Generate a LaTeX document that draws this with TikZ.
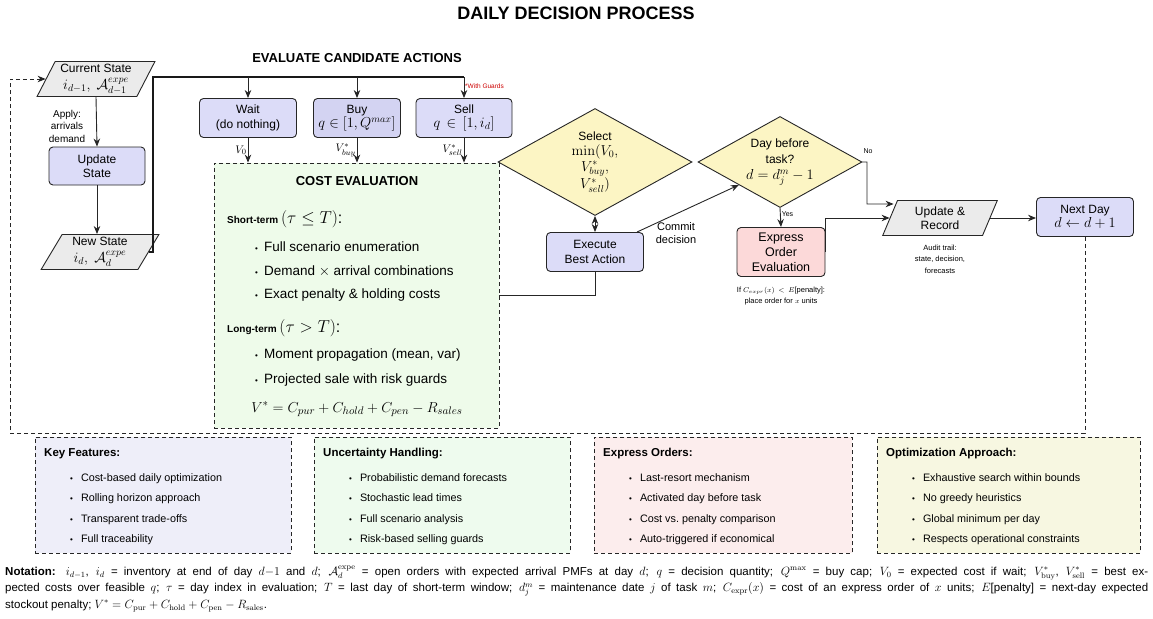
\documentclass[tikz,border=0pt]{standalone}
\usepackage{amsmath,amssymb}
\usepackage[no-math]{fontspec}
\setmainfont{Liberation Sans}
\usetikzlibrary{shapes.geometric,arrows.meta,calc}
\definecolor{lav}{HTML}{DCDCF8}
\definecolor{buyf}{HTML}{D3D3F2}
\definecolor{grayf}{HTML}{EBEBEB}
\definecolor{yel}{HTML}{FCF5C4}
\definecolor{pinkf}{HTML}{FCD9D9}
\definecolor{greenf}{HTML}{EEFBEA}
\definecolor{keyf}{HTML}{EEEEF9}
\definecolor{uncf}{HTML}{EEFBEE}
\definecolor{expf}{HTML}{FCEDED}
\definecolor{optf}{HTML}{F7F7E1}
\newcommand{\fs}[2]{\fontsize{#1}{#2}\selectfont}
\newcommand{\bul}{\raisebox{-0.8pt}{\fontsize{8}{8}\selectfont\textbullet}}
\newcommand{\mth}[1]{{\fs{14}{16}$#1$}}
\newcommand{\infobox}[9]{%
  \node[dbox, fill=#4, anchor=north west, minimum width={#3-#2}, minimum height=116] (#1) at (#2,437) {};
  \node[anchor=base west, font=\bfseries\fs{11.5}{13}] (#1-t) at (#2+8,456) {#5};
  \node[anchor=base west, font=\fs{10.8}{13}] (#1-1) at (#2+34,481) {\bul\hspace{8pt}#6};
  \node[anchor=base west, font=\fs{10.8}{13}] (#1-2) at (#2+34,501) {\bul\hspace{8pt}#7};
  \node[anchor=base west, font=\fs{10.8}{13}] (#1-3) at (#2+34,522) {\bul\hspace{8pt}#8};
  \node[anchor=base west, font=\fs{10.8}{13}] (#1-4) at (#2+34,542) {\bul\hspace{8pt}#9};
}
\begin{document}
\begin{tikzpicture}[x=1pt,y=-1pt,
  every node/.style={inner sep=1pt, text=black},
  box/.style={draw=black!85, line width=0.9pt, rounded corners=4pt, fill=lav, align=center, font=\fs{12}{14.5}, minimum width=97pt, minimum height=39pt, inner sep=2pt},
  para/.style={trapezium, trapezium left angle=63, trapezium right angle=117, trapezium stretches=true, draw=black!85, line width=0.9pt, fill=grayf, align=center, font=\fs{12}{17}, minimum width=118pt, minimum height=35pt, inner sep=0.5pt},
  dia/.style={diamond, aspect=1.8, draw=black!85, line width=0.9pt, fill=yel, align=center, font=\fs{12}{15.5}, inner sep=0pt},
  arr/.style={-{Stealth[length=8pt,width=6.5pt]}, line width=0.9pt, draw=black!85},
  dbox/.style={draw=black!85, line width=0.8pt, dash pattern=on 4pt off 3pt},
  lbl/.style={font=\fs{10}{12.5}, align=center},
  tinyl/.style={font=\fs{7.5}{11.5}, align=center}
]
\useasboundingbox (0,0) rectangle (1153,618);

% titles
\node[font=\bfseries\fs{18}{20}] (title) at (576,13) {DAILY DECISION PROCESS};
\node[font=\bfseries\fs{13}{15}] (evalt) at (357,58) {EVALUATE CANDIDATE ACTIONS};

% left column
\node[para] (cs) at (96,79) {Current State\\\mth{i_{d-1},\ \mathcal{A}^{expe}_{d-1}}};
\node[box, minimum width=96pt, minimum height=38pt] (us) at (97,166) {Update\\State};
\node[para] (ns) at (100,252) {New State\\\mth{i_{d},\ \mathcal{A}^{expe}_{d}}};
\node[lbl] (apply) at (67,126) {Apply:\\arrivals\\demand};
\draw[arr] (cs.south |- 0,97) -- (us.north);
\draw[arr] (us.south) -- (ns.north -| us.south);

% candidate actions
\node[box] (wait) at (248,118) {Wait\\(do nothing)};
\node[box, fill=buyf, minimum width=87pt] (buy) at (357,118) {Buy\\\mth{q \in [1, Q^{max}]}};
\node[box, minimum width=96pt] (sell) at (464,118) {Sell\\\mth{q\,\in\,[1, i_d]}};
\coordinate (bus) at (153,77);
\draw[line width=1.8pt, black!90, line join=miter] (ns.east) -| (bus) -- (sell.north |- bus);
\draw[arr] (wait.north |- bus) -- (wait.north);
\draw[arr] (buy.north |- bus) -- (buy.north);
\draw[arr] (sell.north |- bus) -- (sell.north);
\node[font=\fs{6.5}{7}, text=red!80!black, anchor=west] (guards) at (464,86) {*With Guards};

% cost evaluation
\node[dbox, fill=greenf, minimum width=285pt, minimum height=265pt] (cost) at (356.5,295.5) {};
\draw[arr] (wait.south) -- (wait.south |- cost.north) node[pos=0.5, left=0pt, font=\fs{11}{12}] (v0) {$V_0$};
\draw[arr] (buy.south) -- (buy.south |- cost.north) node[pos=0.5, left=0pt, font=\fs{11}{12}] (vb) {$V^*_{buy}$};
\draw[arr] (sell.south) -- (sell.south |- cost.north) node[pos=0.5, left=0pt, font=\fs{11}{12}] (vs) {$V^*_{sell}$};
\node[font=\bfseries\fs{13}{15}] (costt) at (357,181) {COST EVALUATION};
\node[anchor=base west] (st) at (226,223) {\fs{10}{12}\bfseries Short-term \normalfont\fs{16}{18}$(\tau \le T)$:};
\node[anchor=base west, font=\fs{13.5}{16}] (c1) at (254,251) {\bul\hspace{6pt}Full scenario enumeration};
\node[anchor=base west, font=\fs{13.5}{16}] (c2) at (254,275) {\bul\hspace{6pt}Demand $\times$ arrival combinations};
\node[anchor=base west, font=\fs{13.5}{16}] (c3) at (254,298) {\bul\hspace{6pt}Exact penalty \& holding costs};
\node[anchor=base west] (lt) at (226,332) {\fs{10}{12}\bfseries Long-term \normalfont\fs{16}{18}$(\tau > T)$:};
\node[anchor=base west, font=\fs{13.5}{16}] (c4) at (254,358) {\bul\hspace{6pt}Moment propagation (mean, var)};
\node[anchor=base west, font=\fs{13.5}{16}] (c5) at (254,383) {\bul\hspace{6pt}Projected sale with risk guards};
\node[font=\fs{15.5}{18}] (vf) at (357,409) {$V^* = C_{pur} + C_{hold} + C_{pen} - R_{sales}$};

% select & execute
\node[dia, minimum width=194pt, minimum height=107pt] (sel) at (595,162) {Select\\\mth{\min(V_0,}\\\mth{V^*_{buy},}\\\mth{V^*_{sell})}};
\node[box] (exe) at (595,252) {Execute\\Best Action};
\draw[{Stealth[length=8pt,width=6.5pt]}-{Stealth[length=8pt,width=6.5pt]}, line width=0.9pt, black!85] (sel.south) -- (exe.north);
\draw[line width=0.9pt, black!85] (cost.east) -| (exe.south);

% day before task
\node[dia, minimum width=164pt, minimum height=91pt, font=\fs{12}{16}] (day) at (780,162) {Day before\\task?\\\mth{d = d_j^m - 1}};
\draw[arr] ([xshift=-7pt]exe.north east) -- (day.south west);
\node[lbl, font=\fs{11}{13}] (commit) at (676,233) {Commit\\decision};
\node[box, fill=pinkf, minimum width=88pt, minimum height=49pt, font=\fs{12.5}{15}] (expr) at (781,252) {Express\\Order\\Evaluation};
\draw[arr] (day.south) -- (expr.north) node[pos=0.3, right=0pt, font=\fs{7}{8}] (yes) {Yes};
\node[tinyl] (cond) at (781,296) {If $C_{expr}(x)\,<\,E$[penalty]:\\place order for $x$ units};

% update & record, next day
\node[para, trapezium left angle=70, trapezium right angle=110, minimum width=115pt, minimum height=35pt, font=\fs{12}{14.5}] (upd) at (940,218) {Update \&\\Record};
\node[tinyl] (audit) at (940,259) {Audit trail:\\state, decision,\\forecasts};
\node[box] (next) at (1085,217) {Next Day\\\mth{d \leftarrow d + 1}};
\coordinate (nob) at (867,204);
\draw[arr] (day.east) -| (nob) -- ([xshift=4pt,yshift=14pt]upd.west);
\node[font=\fs{7}{8}] (no) at (868,151) {No};
\draw[arr] (expr.east) |- (upd.west);
\draw[arr] (upd.east) -- (upd.east -| next.west);

% feedback loop
\coordinate (loop) at (10,433);
\draw[arr, dash pattern=on 4pt off 3pt] (next.south) |- (loop) |- (cs.west);

% info boxes
\infobox{key}{35}{291}{keyf}{Key Features:}{Cost-based daily optimization}{Rolling horizon approach}{Transparent trade-offs}{Full traceability}
\infobox{unc}{314}{570}{uncf}{Uncertainty Handling:}{Probabilistic demand forecasts}{Stochastic lead times}{Full scenario analysis}{Risk-based selling guards}
\infobox{exo}{594}{852}{expf}{Express Orders:}{Last-resort mechanism}{Activated day before task}{Cost vs.\ penalty comparison}{Auto-triggered if economical}
\infobox{opt}{877}{1140}{optf}{Optimization Approach:}{Exhaustive search within bounds}{No greedy heuristics}{Global minimum per day}{Respects operational constraints}

% notation
\node[anchor=north west, text width=1143pt, align=justify, font=\fs{11.5}{16.5}, inner sep=0pt] (nota) at (5,566) {\noindent\textbf{Notation:} $i_{d-1}$, $i_d$ = inventory at end of day $d{-}1$ and $d$; $\mathcal{A}^{\mathrm{expe}}_d$ = open orders with expected arrival PMFs at day $d$; $q$ = decision quantity; $Q^{\max}$ = buy cap; $V_0$ = expected cost if wait; $V^*_{\mathrm{buy}}$, $V^*_{\mathrm{sell}}$ = best ex-\linebreak pected costs over feasible $q$; $\tau$ = day index in evaluation; $T$ = last day of short-term window; $d^m_j$ = maintenance date $j$ of task $m$; $C_{\mathrm{expr}}(x)$ = cost of an express order of $x$ units; $E$[penalty] = next-day expected\linebreak stockout penalty; $V^* = C_{\mathrm{pur}} + C_{\mathrm{hold}} + C_{\mathrm{pen}} - R_{\mathrm{sales}}$.};
\end{tikzpicture}
\end{document}
